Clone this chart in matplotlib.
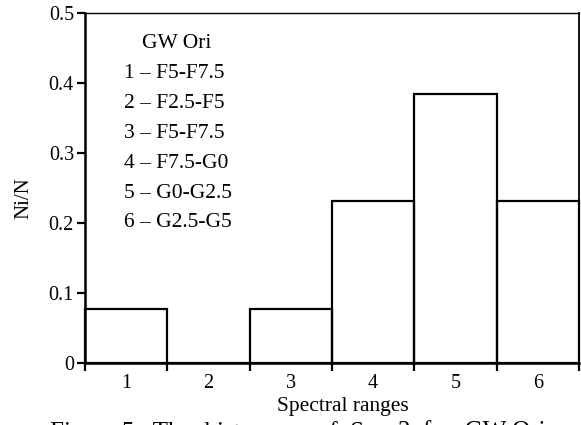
import numpy as np
import matplotlib.pyplot as plt

plt.rcParams['font.family'] = ['Liberation Serif', 'DejaVu Serif']

# relative number of stars per spectral range (13 stars in total)
ranges = [1, 2, 3, 4, 5, 6]
fractions = [1 / 13, 0, 1 / 13, 3 / 13, 5 / 13, 3 / 13]
range_names = ['1 – F5-F7.5', '2 – F2.5-F5', '3 – F5-F7.5',
               '4 – F7.5-G0', '5 – G0-G2.5', '6 – G2.5-G5']
y_ticks = [0, 0.1, 0.2, 0.3, 0.4, 0.5]
y_labels = ['0', '0.1', '0.2', '0.3', '0.4', '0.5']

W, H = 581, 425
fig = plt.figure(figsize=(W / 100, H / 100), dpi=100)
ax = fig.add_axes([85 / W, 1 - 362.7 / H, 494 / W, 349.4 / H])

ax.bar(ranges, fractions, width=1.0, fill=False, edgecolor='black',
       linewidth=1.6, clip_on=False)

ax.set_xlim(0.5, 6.5)
ax.set_ylim(0, 0.5)

# bin edges carry the ticks, the numbers sit in the middle of each bin
edges = np.arange(0.5, 7.0, 1.0)
ax.set_xticks(edges)
ax.set_xticklabels([])
ax.set_xticks(ranges, minor=True)
ax.set_xticklabels([str(r) for r in ranges], minor=True)
ax.tick_params(axis='x', which='major', direction='out', length=6,
               width=1.6, color='black')
ax.tick_params(axis='x', which='minor', length=0, pad=8, labelsize=14.5)

ax.set_yticks(y_ticks)
ax.set_yticklabels(y_labels)
ax.tick_params(axis='y', direction='out', length=6, width=1.6,
               pad=2, labelsize=14.5)

ax.spines['left'].set_linewidth(1.8)
ax.spines['bottom'].set_linewidth(1.8)
ax.spines['top'].set_linewidth(1.0)
ax.spines['right'].set_linewidth(1.3)

# legend block of range names
fig.text(142 / W, 1 - 43 / H, 'GW Ori', fontsize=15.5, va='center')
for i, name in enumerate(range_names):
    fig.text(124 / W, 1 - (73 + 30 * i) / H, name, fontsize=15.5,
             va='center')

fig.text(24 / W, 1 - 198 / H, 'Ni/N', fontsize=15, rotation=90,
         ha='center', va='center')
fig.text(343 / W, 1 - 407 / H, 'Spectral ranges', fontsize=15.5,
         ha='center', va='center')

# caption line, cut off at the bottom edge
fig.text(-2 / W, 1 - 432.5 / H, 'rr.', fontsize=18, va='center')
fig.text(50 / W, 1 - 432.5 / H, 'Figure 5.  The  histogram  of  Sp',
         fontsize=18, va='center')
fig.text(398 / W, 1 - 432.5 / H, '2  for  GW Ori', fontsize=18,
         va='center')

fig.savefig('out.png', dpi=100)
